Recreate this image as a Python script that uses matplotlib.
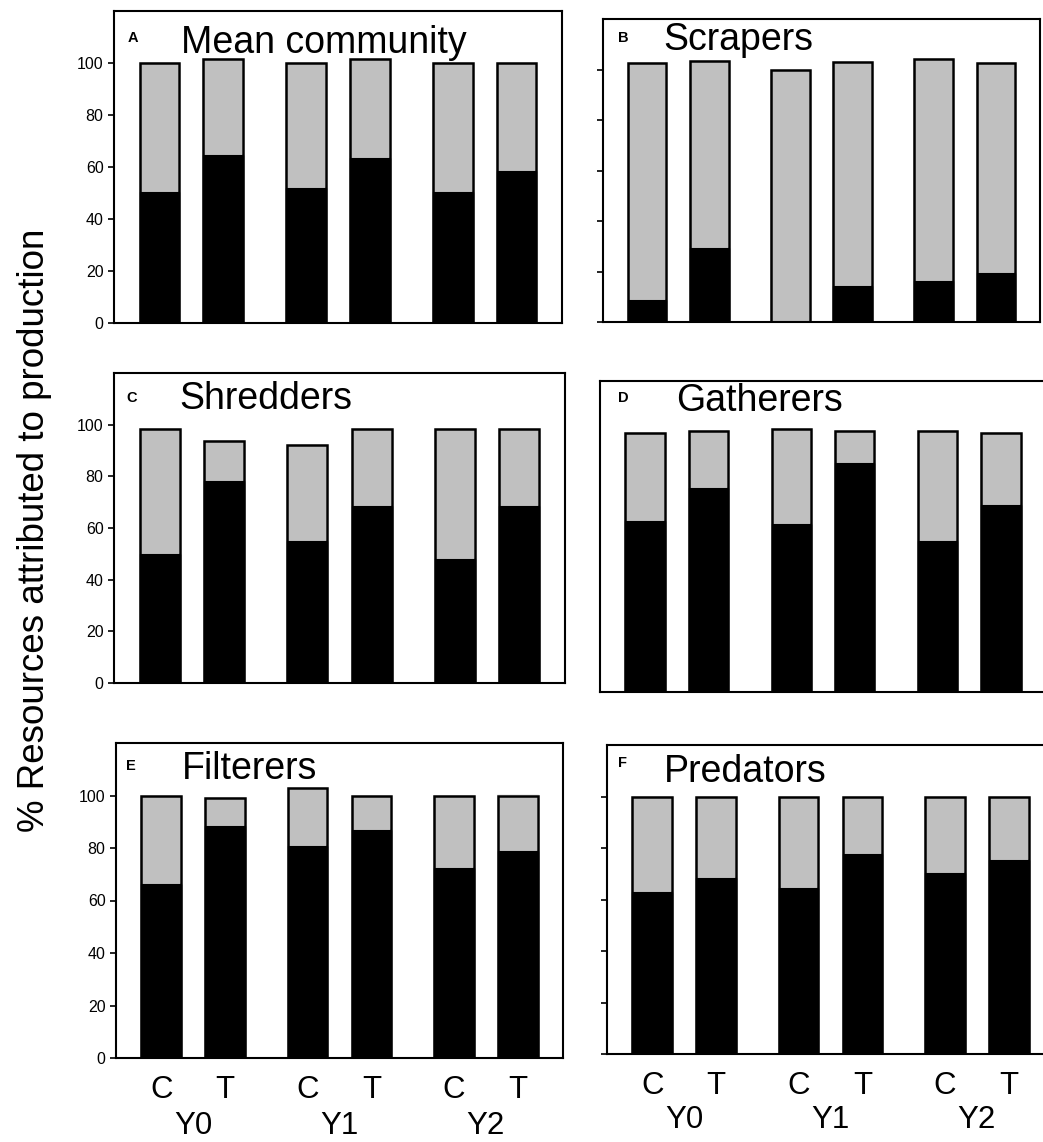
import matplotlib
matplotlib.use("Agg")
import matplotlib.pyplot as plt
import matplotlib.transforms as mtransforms
import numpy as np

plt.rcParams['font.family'] = ['Liberation Sans', 'DejaVu Sans']

# bar positions: C,T pairs for Y0, Y1, Y2
pos = np.array([0, 1, 2.3, 3.3, 4.6, 5.6])
treat = ["C", "T", "C", "T", "C", "T"]
years = ["Y0", "Y1", "Y2"]

letters = ["A", "B", "C", "D", "E", "F"]
titles = ["Mean community", "Scrapers", "Shredders", "Gatherers", "Filterers", "Predators"]

# black part (resources attributed to production) and total bar height
black_A = [50.5, 64.5, 52, 63.5, 50.5, 58.3]
total_A = [100, 101.5, 100, 101.4, 100, 100]
black_B = [8.7, 29.5, 0, 14.2, 16.3, 19.4]
total_B = [102.5, 103.5, 99.8, 103, 104.3, 102.5]
black_C = [49.8, 78.1, 55, 68.7, 48.1, 68.7]
total_C = [98.3, 93.8, 92.3, 98.3, 98.3, 98.3]
black_D = [66, 78.6, 64.9, 88.5, 58.4, 72.2]
total_D = [100, 100.9, 101.5, 100.9, 100.9, 100]
black_E = [66.4, 88.2, 80.8, 86.9, 72.3, 78.7]
total_E = [100, 99.1, 103, 100, 100, 100]
black_F = [63, 68.5, 64.5, 77.7, 70.2, 75.4]
total_F = [100, 100, 100, 100, 100, 100]

blacks = [black_A, black_B, black_C, black_D, black_E, black_F]
totals = [total_A, total_B, total_C, total_D, total_E, total_F]

W, H = 1043, 1142
fig = plt.figure(figsize=(W / 100, H / 100), dpi=100)

# axes boxes in pixels: left, bottom, width, height (from top)
boxes = [(114, 323, 448, 312), (603, 322, 437, 303),
         (114, 683, 451, 310), (600, 692, 446, 311),
         (116, 1058, 447, 315), (607, 1054, 447, 309)]
title_xy = [(0.15, 0.865), (0.137, 0.898), (0.144, 0.884),
            (0.17, 0.904), (0.148, 0.886), (0.128, 0.88)]
letter_xy = [(0.03, 0.90), (0.034, 0.924), (0.027, 0.906),
             (0.04, 0.932), (0.022, 0.914), (0.025, 0.929)]

bw = 0.62
for i in range(6):
    l, b, w, h = boxes[i]
    ax = fig.add_axes([l / W, 1 - b / H, w / W, h / H])
    blk = np.array(blacks[i])
    tot = np.array(totals[i])
    ax.bar(pos, tot - blk, bw, bottom=blk, color="#c0c0c0", edgecolor="#eeeeee", linewidth=1.2, zorder=2)
    ax.bar(pos, blk, bw, color="black", edgecolor="black", linewidth=1.0, zorder=3)
    ax.bar(pos, tot, bw, fill=False, edgecolor="black", linewidth=1.8, zorder=4)
    ax.set_xlim(-0.71, 6.31)
    ax.set_ylim(0, 120)
    for s in ax.spines.values():
        s.set_linewidth(1.5)
    ax.set_yticks([0, 20, 40, 60, 80, 100])
    ax.tick_params(axis='y', direction='out', length=4, width=1.2, labelsize=11.5)
    if i % 2 == 1:
        ax.set_yticklabels([])
    if i == 3:
        ax.tick_params(axis='y', length=0)
    if i >= 4:
        ax.set_xticks(pos, labels=treat)
        ax.tick_params(axis='x', length=0, labelsize=22.5, pad=12)
        trans = mtransforms.blended_transform_factory(ax.transData, ax.transAxes)
        for g in range(3):
            xc = (pos[2 * g] + pos[2 * g + 1]) / 2
            ax.text(xc, -0.215, years[g], transform=trans, ha="center", va="center", fontsize=22.5)
    else:
        ax.set_xticks([])
    ax.text(title_xy[i][0], title_xy[i][1], titles[i], transform=ax.transAxes,
            fontsize=27, ha="left", va="baseline")
    ax.text(letter_xy[i][0], letter_xy[i][1], letters[i], transform=ax.transAxes,
            fontsize=10.5, fontweight="bold", ha="left", va="baseline")

fig.text(35 / W, 1 - 530 / H, "% Resources attributed to production", rotation=90,
         ha="center", va="center", fontsize=26.5)

fig.savefig("out.png", dpi=100)
